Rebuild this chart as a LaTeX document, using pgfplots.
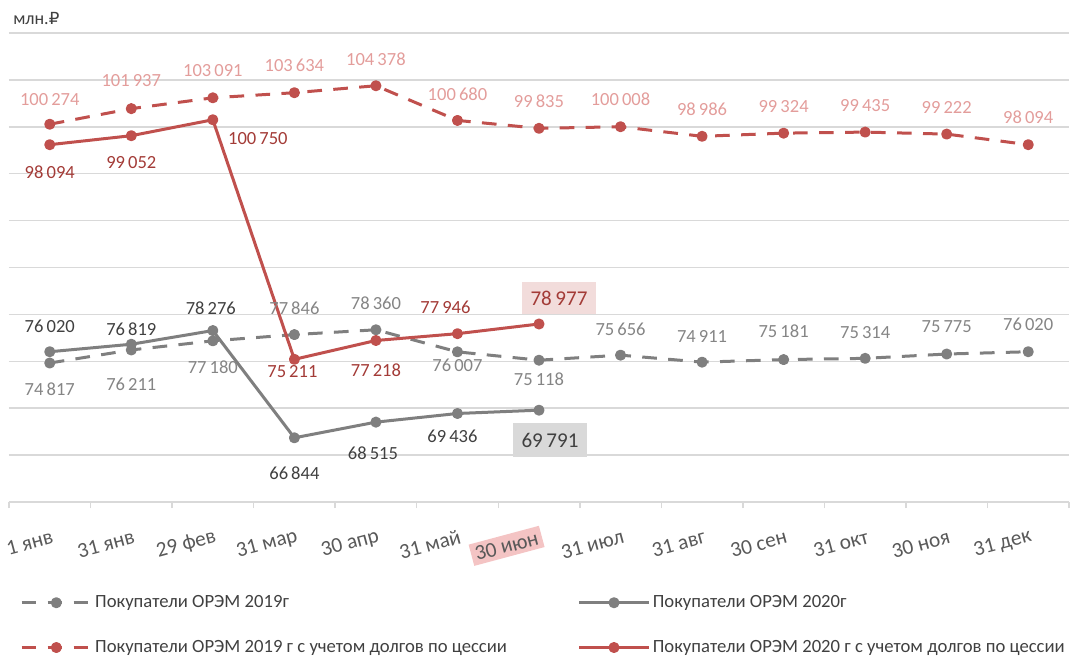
\documentclass[border=0pt]{standalone}
\usepackage{fontspec}
\setmainfont{Carlito}
\newfontfamily\dv{DejaVu Sans}
\usepackage{pgfplots}
\pgfplotsset{compat=1.18}
\usepackage{pgfplotstable}

\definecolor{cgray}{HTML}{7F7F7F}
\definecolor{cred}{HTML}{C0504D}
\definecolor{lgray}{HTML}{858585}
\definecolor{dgray}{HTML}{404040}
\definecolor{lred}{HTML}{E39D9B}
\definecolor{dred}{HTML}{A33B37}
\definecolor{gridc}{HTML}{D9D9D9}
\definecolor{tickc}{HTML}{595959}
\definecolor{hlpink}{HTML}{F2DCDB}
\definecolor{hlgray}{HTML}{D9D9D9}
\definecolor{hltick}{HTML}{F4C4C4}

% x y dx dy(up, px) s(show label)
\pgfplotstableread{
x y dx dy s
0 74817 0 -26 1
1 76211 0 -34 1
2 77180 0 -26 1
3 77846 0 26 1
4 78360 0 27 1
5 76007 0 -13 1
6 75118 0 -19 1
7 75656 0 26 1
8 74911 0 26 1
9 75181 0 28 1
10 75314 0 26 1
11 75775 0 27 1
12 76020 0 27 1
}\gA
\pgfplotstableread{
x y dx dy s
0 76020 0 25 1
1 76819 0 15 1
2 78276 -2 22 1
3 66844 0 -35 1
4 68515 -3 -31 1
5 69436 -5 -23 1
6 69791 0 0 0
}\gB
\pgfplotstableread{
x y dx dy s
0 100274 0 25 1
1 101937 0 28 1
2 103091 0 27 1
3 103634 0 27 1
4 104378 0 26 1
5 100680 0 26 1
6 99835 0 27 1
7 100008 0 27 1
8 98986 0 27 1
9 99324 0 27 1
10 99435 0 27 1
11 99222 0 27 1
12 98094 0 27 1
}\rA
\pgfplotstableread{
x y dx dy s
0 98094 0 -28 1
1 99052 0 -27 1
2 100750 45 -19 1
3 75211 -2 -12 1
4 77218 0 -30 1
5 77946 -12 26 1
6 78977 0 0 0
}\rB

\pgfplotsset{
  /pgf/number format/.cd, fixed, precision=0, 1000 sep={\,}, assume math mode=true,
  /pgfplots/.cd,
  lbl/.style={
    nodes near coords={\ifdim\ls pt>0.5pt\pgfmathprintnumber{\pgfplotspointmeta}\fi},
    visualization depends on={\thisrow{dx} \as \ldx},
    visualization depends on={\thisrow{dy} \as \ldy},
    visualization depends on={\thisrow{s} \as \ls},
    every node near coord/.append style={anchor=center, xshift=\ldx*0.75pt, yshift=\ldy*0.75pt,
      font=\fontsize{13.9}{16}\selectfont, text=#1, inner sep=0pt}},
  ser/.style={color=#1, line width=2.25pt, mark=*, mark size=3pt, mark options={solid}, line join=round},
}

\begin{document}
\begin{tikzpicture}
\path[use as bounding box] (0,0) rectangle (803.25pt,492.75pt);
\node[anchor=west, inner sep=0pt, text=dgray, font=\fontsize{13.5}{16}\selectfont] at (9.75pt,478.5pt) {млн.{\dv\fontsize{12.5}{16}\selectfont ₽}};
\begin{axis}[
  at={(6.75pt,116.25pt)}, anchor=south west,
  scale only axis, width=795pt, height=351.75pt,
  xmin=-0.5, xmax=12.5, ymin=60000, ymax=110000,
  scaled y ticks=false,
  clip=false,
  axis lines*=left,
  x axis line style={gridc, line width=1.1pt},
  y axis line style={draw=none},
  ytick={60000,65000,...,110000}, yticklabels={},
  ymajorgrids, major grid style={gridc, line width=1.1pt},
  ytick style={draw=none},
  xtick={0,...,12},
  xticklabels={1 янв,31 янв,29 фев,31 мар,30 апр,31 май,{\colorbox{hltick}{30 июн}},31 июл,31 авг,30 сен,31 окт,30 ноя,31 дек},
  major x tick style={draw=none},
  minor xtick={-0.5,0.5,...,12.5},
  minor x tick style={gridc, line width=1.1pt},
  minor tick length=4.5pt,
  xtick align=outside,
  xticklabel style={xshift=2.25pt, yshift=-21.5pt, rotate=15, anchor=east, inner sep=0pt, text=tickc, font=\fontsize{16}{18}\selectfont},
  legend columns=2,
  legend cell align=left,
  legend style={draw=none, fill=none, at={(rel axis cs:0.0103,-0.1935)}, anchor=north west,
    font=\fontsize{14}{16}\selectfont, text=dgray, inner sep=0pt,
    row sep=19pt,
    /tikz/every even column/.append style={column sep=4pt}},
  legend image code/.code={\draw[#1, mark repeat=2, mark phase=2] plot coordinates {(0pt,0pt) (26pt,0pt) (52pt,0pt)};},
]
\addplot[ser=cgray, dash pattern=on 11pt off 8.5pt, lbl=lgray] table[x=x,y=y] {\gA};
\addlegendentry{\makebox[356pt][l]{Покупатели ОРЭМ 2019г}}
\addplot[ser=cgray, lbl=dgray] table[x=x,y=y] {\gB};
\addlegendentry{Покупатели ОРЭМ 2020г}
\addplot[ser=cred, dash pattern=on 11pt off 8.5pt, lbl=lred] table[x=x,y=y] {\rA};
\addlegendentry{\makebox[356pt][l]{Покупатели ОРЭМ 2019 г с учетом долгов по цессии}}
\addplot[ser=cred, lbl=dred] table[x=x,y=y] {\rB};
\addlegendentry{Покупатели ОРЭМ 2020 г с учетом долгов по цессии}

\addplot[draw=none, mark=none, forget plot, nodes near coords,
  every node near coord/.append style={anchor=center, xshift=15pt, yshift=19.5pt, fill=hlpink, text=dred,
    font=\fontsize{15.8}{18}\selectfont, minimum width=56pt, minimum height=24pt, inner sep=0pt}]
  coordinates {(6,78977)};
\addplot[draw=none, mark=none, forget plot, nodes near coords,
  every node near coord/.append style={anchor=center, xshift=8.25pt, yshift=-22.5pt, fill=hlgray, text=dgray,
    font=\fontsize{15.8}{18}\selectfont, minimum width=55.5pt, minimum height=25.5pt, inner sep=0pt}]
  coordinates {(6,69791)};
\end{axis}
\end{tikzpicture}
\end{document}
